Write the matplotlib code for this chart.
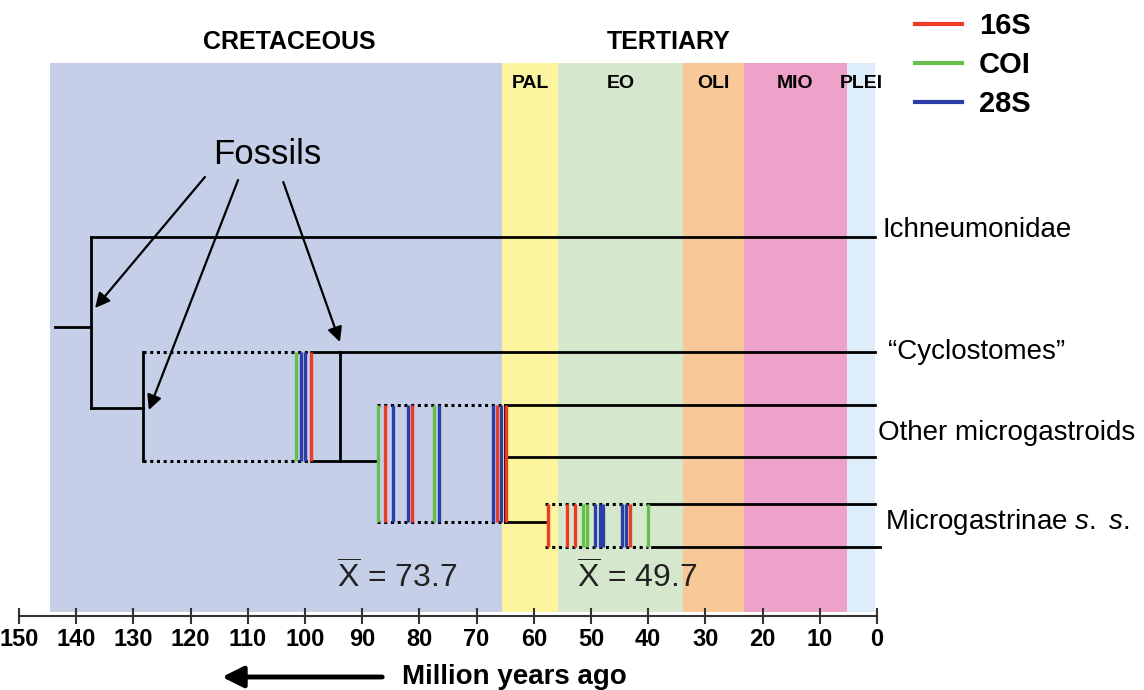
import matplotlib.pyplot as plt
from matplotlib.lines import Line2D

plt.rcParams['font.family'] = 'Liberation Sans'
plt.rcParams['mathtext.fontset'] = 'custom'
plt.rcParams['mathtext.rm'] = 'Liberation Sans'
plt.rcParams['mathtext.it'] = 'Liberation Sans:italic'

# time scale (Ma)
cretaceous = (144.5, 65.5)
epochs = ['PAL', 'EO', 'OLI', 'MIO', 'PLEI']
epoch_start = [65.5, 55.8, 33.9, 23.3, 5.3]
epoch_end = [55.8, 33.9, 23.3, 5.3, 0.3]
cret_color = '#C6CFE8'
epoch_colors = ['#FDF4A0', '#D5E8CD', '#F9C898', '#EEA2C9', '#DDEEFA']

taxa = ['Ichneumonidae', '\u201cCyclostomes\u201d', 'Other microgastroids',
        'Microgastrinae $\\it{s.}$ $\\it{s.}$']

# node ages of the tree (Ma)
root_age = 143.7
ich_node = 137.4
cyc_box = (128.3, 98.95)
cyc_node = 93.9
micro_box = (87.4, 65.0)
mgs_box = (58.0, 40.0)
tip_age = 0.35

# gene estimates inside each dotted box
genes = ['16S', 'COI', '28S']
gene_colors = {'16S': '#EE3B24', 'COI': '#66BF4B', '28S': '#2B3DA6'}
box1_ages = [101.6, 100.75, 100.0, 98.95]
box1_genes = ['COI', '28S', '28S', '16S']
box2_ages = [87.2, 86.0, 84.6, 82.0, 81.3, 77.4, 76.6, 67.1, 66.4, 65.7, 64.8]
box2_genes = ['COI', '16S', '28S', '28S', '16S', 'COI', '28S', '28S', '16S', '28S', '16S']
box3_ages = [57.5, 54.2, 52.8, 51.4, 50.7, 49.3, 48.4, 47.9, 44.6, 43.9, 43.2, 40.0]
box3_genes = ['16S', '16S', '16S', 'COI', 'COI', '28S', '28S', '28S', '28S', '28S', '16S', 'COI']
means = [73.7, 49.7]

fig = plt.figure(figsize=(11.44, 6.90), dpi=100)
ax = fig.add_axes([19/1144, 1 - 616/690, 858/1144, 616/690])
ax.set_xlim(150, 0)
ax.set_ylim(616, 0)

# background bands
band_top, band_bot = 63, 612
ax.fill_between(cretaceous, band_top, band_bot, color=cret_color, lw=0)
for s, e, c in zip(epoch_start, epoch_end, epoch_colors):
    ax.fill_between([s, e], band_top, band_bot, color=c, lw=0)
for s, e, name in zip(epoch_start, epoch_end, epochs):
    ax.text((s + e) / 2, 83, name, ha='center', va='center', fontsize=14, fontweight='bold')
ax.text(102.8, 42, 'CRETACEOUS', ha='center', va='center', fontsize=18, fontweight='bold')
ax.text(36.4, 42, 'TERTIARY', ha='center', va='center', fontsize=18, fontweight='bold')

# tree
lw = 2
k = dict(color='black', lw=lw, clip_on=False)
rows = dict(ich=237, root=327, cyc=352, b1=461, b2top=405, mid=457, b2bot=522,
            b3top=504, b3bot=547)
ax.plot([root_age, ich_node], [rows['root']] * 2, **k)
ax.plot([ich_node, ich_node], [rows['ich'], 408], **k)
ax.plot([ich_node, tip_age], [rows['ich']] * 2, **k)
ax.plot([ich_node, cyc_box[0]], [408] * 2, **k)
ax.plot([cyc_box[0]] * 2, [rows['cyc'], rows['b1']], **k)
ax.plot([cyc_box[1], tip_age], [rows['cyc']] * 2, **k)
ax.plot([cyc_node] * 2, [rows['cyc'], rows['b1']], **k)
ax.plot([cyc_box[1], micro_box[0]], [rows['b1']] * 2, **k)
ax.plot([micro_box[1], tip_age], [rows['b2top']] * 2, **k)
ax.plot([micro_box[1], tip_age], [rows['mid']] * 2, **k)
ax.plot([micro_box[1]] * 2, [rows['b2top'], rows['b2bot']], **k)
ax.plot([micro_box[1], mgs_box[0]], [rows['b2bot']] * 2, **k)
ax.plot([mgs_box[1], tip_age], [rows['b3top']] * 2, **k)
ax.plot([39.3, -0.5], [rows['b3bot']] * 2, **k)

dot = dict(color='black', lw=2.2, ls=(0, (1, 1.2)))
for box, top, bot in [(cyc_box, rows['cyc'], rows['b1']),
                      (micro_box, rows['b2top'], rows['b2bot']),
                      (mgs_box, rows['b3top'], rows['b3bot'])]:
    ax.plot(box, [top, top], **dot)
    ax.plot(box, [bot, bot], **dot)

for ages, gs, top, bot in [(box1_ages, box1_genes, rows['cyc'], rows['b1']),
                           (box2_ages, box2_genes, rows['b2top'], rows['b2bot']),
                           (box3_ages, box3_genes, rows['b3top'], rows['b3bot'])]:
    ax.vlines(ages, top, bot, colors=[gene_colors[g] for g in gs], lw=2.4)

# taxon labels
for name, y, x in zip(taxa, [230, 352, 433, 522], [-1.0, -1.9, -0.2, -1.4]):
    ax.text(x, y, name, ha='left', va='center', fontsize=20, clip_on=False)

# fossils
ax.text(106.6, 155, 'Fossils', ha='center', va='center', fontsize=25)
for (x0, y0), (x1, y1) in [((117.5, 177), (136.7, 308)),
                           ((111.7, 180), (127.3, 410)),
                           ((103.8, 182), (93.9, 342))]:
    ax.annotate('', xy=(x1, y1), xytext=(x0, y0),
                arrowprops=dict(arrowstyle='-|>', color='black', lw=1.6,
                                mutation_scale=22, shrinkA=0, shrinkB=0))

# means
for m, x in zip(means, [83.9, 42.0]):
    ax.text(x, 578, r'$\overline{\mathrm{X}}$' + f' = {m}', ha='center', va='center',
            fontsize=23, color='#222222')

# axis
for s in ['top', 'left', 'right']:
    ax.spines[s].set_visible(False)
ax.spines['bottom'].set_color('#333333')
ax.spines['bottom'].set_linewidth(1.5)
ax.set_yticks([])
ax.set_xticks(range(0, 151, 10))
ax.tick_params(axis='x', direction='inout', length=12, width=1.5, color='#333333',
               labelsize=17, pad=3)
for t in ax.get_xticklabels():
    t.set_fontweight('bold')

ax.annotate('', xy=(114.5, 677), xytext=(86.5, 677), annotation_clip=False,
            arrowprops=dict(arrowstyle='-|>', color='black', lw=3.5,
                            mutation_scale=32, shrinkA=0, shrinkB=0))
ax.text(83.0, 677, 'Million years ago', ha='left', va='center', fontsize=20,
        fontweight='bold', clip_on=False)

# legend
handles = [Line2D([], [], color=gene_colors[g], lw=3) for g in genes]
fig.legend(handles, genes, loc='upper left', bbox_to_anchor=(915/1144, 1 - 12/690),
           frameon=False, prop=dict(size=21, weight='bold'), handlelength=1.6,
           handletextpad=0.6, labelspacing=0.38, borderpad=0, borderaxespad=0)

fig.savefig('out.png', dpi=100)
